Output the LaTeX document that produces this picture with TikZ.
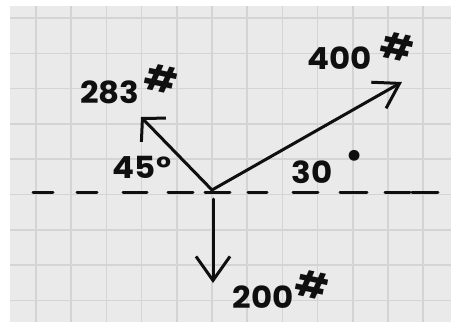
\documentclass[tikz,border=0pt]{standalone}
\usepackage{fontspec}
\setmainfont{Poppins}
\usetikzlibrary{arrows.meta}
\definecolor{paper}{RGB}{234,234,234}
\definecolor{gridc}{RGB}{212,212,212}
\definecolor{ink}{RGB}{15,15,15}
\tikzset{
  vec/.style={draw=ink, line width=3pt, line cap=round, line join=round},
  dashseg/.style={draw=ink, line width=3pt, line cap=round},
  num/.style={inner sep=0pt, text=ink, font=\fontsize{29}{29}\selectfont\bfseries, xscale=1.12, yscale=1.05, transform shape},
  hashmark/.style={inner sep=0pt, text=ink, font=\fontsize{36}{36}\selectfont\bfseries, rotate=-12},
}
\begin{document}
\begin{tikzpicture}[x=1pt,y=-1pt]
\useasboundingbox (0,0) rectangle (451,322);
\fill[white] (0,0) rectangle (451,322);
\fill[paper] (10,6) rectangle (451,322);
% grid
\foreach \k in {0,...,11} {
  \draw[gridc, line width=1.6pt] ({36+35.2*\k},6) -- ({36+35.2*\k},322);
}
\foreach \k in {0,...,8} {
  \draw[gridc, line width=1.6pt] (10,{18+35.3*\k}) -- (451,{18+35.3*\k});
}
% dashed reference line
\foreach \a/\b in {33/53,77/97,123/147,168/193,205/230,248/267,293/318,340/367,385/410,412/438} {
  \draw[dashseg] (\a,192) -- (\b,192);
}
% points
\coordinate (O) at (212,190);
\coordinate (S) at (213,199);
\coordinate (T283) at (141,117);
\coordinate (T400) at (402,82);
\coordinate (T200) at (213,283);
% vectors
\draw[vec, -{Straight Barb[length=16pt,width=34pt,line width=3pt]}] (O) -- (T283);
\draw[vec, -{Straight Barb[length=24pt,width=30pt,line width=3pt]}] (O) -- (T400);
\draw[vec, -{Straight Barb[length=24pt,width=34pt,line width=3pt]}] (S) -- (T200);
% labels
\node[num] (l283) at (110,92) {283};
\node[hashmark] (h283) at (161,79) {\#};
\node[num] (l400) at (340,58) {400};
\node[hashmark] (h400) at (397,47) {\#};
\node[num] (l200) at (263,297) {200};
\node[hashmark] (h200) at (312,285) {\#};
\node[num] (l45) at (142,167) {45°};
\node[num] (l30) at (312,172) {30};
\node[inner sep=0pt, text=ink, font=\fontsize{44}{44}\selectfont] (d30) at (355,160) {•};
\end{tikzpicture}
\end{document}
